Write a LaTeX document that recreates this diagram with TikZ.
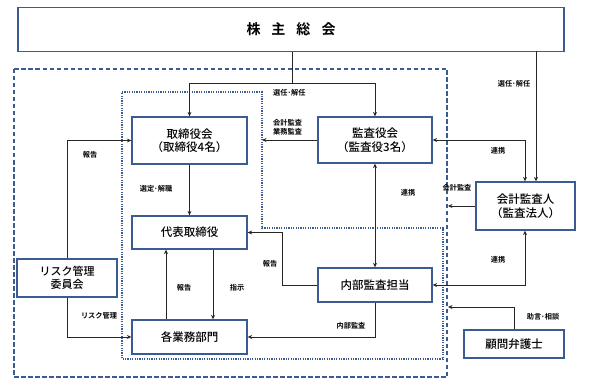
\documentclass[tikz,border=0pt]{standalone}
\usepackage{fontspec}
\setmainfont{Noto Sans CJK JP}[BoldFont={Noto Sans CJK JP Bold}]
\newfontfamily\jpmed{Noto Sans CJK JP Medium}
\usetikzlibrary{arrows.meta}
\definecolor{boxblue}{RGB}{58,92,146}
\tikzset{
  box/.style={draw=boxblue, line width=1.3pt, fill=white, inner sep=0pt, align=center, font=\jpmed\fontsize{11.5}{13.5}\selectfont},
  lbl/.style={font=\fontsize{7.2}{9}\selectfont\bfseries, inner sep=0pt, align=left},
  conn/.style={line width=0.9pt, draw=black!85},
  arr/.style={conn, -{Stealth[length=4.5pt,width=4pt]}},
  darr/.style={conn, {Stealth[length=4.5pt,width=4pt]}-{Stealth[length=4.5pt,width=4pt]}},
  outerline/.style={draw=boxblue, line width=1.2pt, dash pattern=on 4.5pt off 2.5pt},
  innerline/.style={draw=boxblue, line width=1.2pt, dash pattern=on 1.2pt off 1.2pt},
}
\begin{document}
\begin{tikzpicture}[x=1pt,y=-1pt]
\useasboundingbox (0,0) rectangle (589,385);
% enclosures
\draw[outerline] (14,69) rectangle (447,377);
\draw[innerline] (122,92) -- (262,92) -- (262,228) -- (443,228) -- (443,359) -- (122,359) -- cycle;
% nodes
\node[box, minimum width=546pt, minimum height=44pt, font=\fontsize{14}{16}\selectfont\bfseries] (top) at (291,29.5) {株\hspace{11pt}主\hspace{11pt}総\hspace{11pt}会};
\node[box, minimum width=115pt, minimum height=47pt] (tori) at (189.5,140.5) {取締役会\\（取締役4名）};
\node[box, minimum width=115pt, minimum height=33pt] (daihyo) at (189.5,232.5) {代表取締役};
\node[box, minimum width=115pt, minimum height=34pt] (kakugyo) at (189.5,337) {各業務部門};
\node[box, minimum width=100pt, minimum height=38pt, font=\jpmed\fontsize{11}{13.5}\selectfont] (risk) at (67,278) {リスク管理\\委員会};
\node[box, minimum width=114pt, minimum height=46pt] (kansa) at (375,140) {監査役会\\（監査役3名）};
\node[box, minimum width=114pt, minimum height=34pt] (naibu) at (375,285) {内部監査担当};
\node[box, minimum width=99pt, minimum height=48pt] (kaikei) at (525.5,206) {会計監査人\\（監査法人）};
\node[box, minimum width=100pt, minimum height=28pt] (komon) at (514,344) {顧問弁護士};
% free ends
\coordinate (j1) at (292,83);
\coordinate (k1) at (536,51);
\coordinate (kb) at (262,140);
\coordinate (kc) at (448,206);
\coordinate (kd) at (448,307);
% connectors
\draw[conn] (top.south -| j1) -- (j1);
\draw[arr] (j1) -| (tori.north);
\draw[arr] (j1) -| (kansa.north);
\draw[arr] (k1) -- (k1 |- kaikei.north);
\draw[darr] (kansa.east) -| ([xshift=-0.5pt]kaikei.north);
\draw[arr] (kansa.west) -- (kb);
\draw[darr] (kansa.south) -- (naibu.north);
\draw[arr] (kaikei.west) -- (kc);
\draw[darr] ([xshift=-0.5pt]kaikei.south) |- (naibu.east);
\draw[arr] (komon.north) |- (kd);
\draw[arr] (naibu.west) -- ++(-35,0) |- (daihyo.east);
\draw[arr] (naibu.south) |- (kakugyo.east);
\draw[arr] (tori.south) -- (daihyo.north);
\draw[arr] ([xshift=-23.5pt]kakugyo.north) -- ([xshift=-23.5pt]daihyo.south);
\draw[arr] ([xshift=23.5pt]daihyo.south) -- ([xshift=23.5pt]kakugyo.north);
\draw[arr] (risk.north) |- (tori.west);
\draw[arr] (risk.south) |- (kakugyo.west);
% labels
\node[lbl, anchor=west] (l1) at (273,93) {選任･解任};
\node[lbl] (l2) at (514,84) {選任･解任};
\node[lbl, anchor=west] (l3) at (273,127) {会計監査\\業務監査};
\node[lbl] (l4) at (90,155) {報告};
\node[lbl] (l5) at (156,189) {選定･解職};
\node[lbl] (l6) at (408,193) {連携};
\node[lbl] (l7) at (498,151) {連携};
\node[lbl] (l8) at (457,188) {会計監査};
\node[lbl] (l9) at (270,264) {報告};
\node[lbl] (l10) at (498,260) {連携};
\node[lbl] (l11) at (184,288) {報告};
\node[lbl] (l12) at (237,288) {指示};
\node[lbl] (l13) at (99,316) {リスク管理};
\node[lbl] (l14) at (543,317) {助言･相談};
\node[lbl] (l15) at (351,326) {内部監査};
\end{tikzpicture}
\end{document}
